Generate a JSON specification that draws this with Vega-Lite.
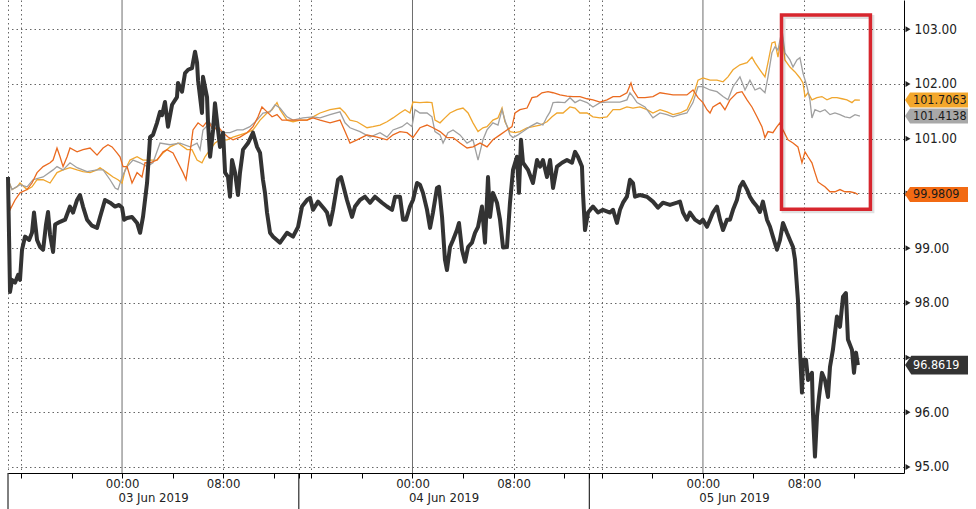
{
"$schema": "https://vega.github.io/schema/vega-lite/v6.json",
"width": 896, "height": 473,
"autosize": {"type": "none"},
"padding": {"left": 8, "top": 0, "right": 72, "bottom": 36},
"background": "#ffffff",
"config": {"view": {"stroke": null}, "font": "DejaVu Sans Condensed", "text": {"font": "DejaVu Sans Condensed"}, "axis": {"labelFont": "DejaVu Sans Condensed"}},
"datasets": {
"dark": [{"t":-9.03,"v":100.30},{"t":-8.87,"v":98.20},{"t":-8.71,"v":98.42},{"t":-8.47,"v":98.37},{"t":-8.23,"v":98.51},{"t":-8.08,"v":98.42},{"t":-7.92,"v":98.97},{"t":-7.68,"v":99.21},{"t":-7.36,"v":99.15},{"t":-7.13,"v":99.28},{"t":-6.97,"v":99.65},{"t":-6.73,"v":99.15},{"t":-6.49,"v":99.02},{"t":-6.25,"v":98.97},{"t":-6.02,"v":99.43},{"t":-5.86,"v":99.66},{"t":-5.70,"v":99.24},{"t":-5.46,"v":98.93},{"t":-5.30,"v":99.43},{"t":-4.91,"v":99.48},{"t":-4.51,"v":99.52},{"t":-4.12,"v":99.76},{"t":-3.88,"v":99.65},{"t":-3.56,"v":99.88},{"t":-3.33,"v":99.97},{"t":-3.09,"v":99.76},{"t":-2.77,"v":99.52},{"t":-2.38,"v":99.41},{"t":-1.98,"v":99.37},{"t":-1.74,"v":99.57},{"t":-1.35,"v":99.88},{"t":-0.95,"v":99.83},{"t":-0.55,"v":99.76},{"t":-0.24,"v":99.79},{"t":0,"v":99.74},{"t":0.16,"v":99.52},{"t":0.40,"v":99.55},{"t":0.79,"v":99.57},{"t":1.19,"v":99.46},{"t":1.43,"v":99.28},{"t":1.66,"v":99.57},{"t":1.98,"v":100.19},{"t":2.22,"v":101.03},{"t":2.45,"v":101.07},{"t":2.77,"v":101.29},{"t":3.01,"v":101.49},{"t":3.17,"v":101.43},{"t":3.40,"v":101.67},{"t":3.64,"v":101.22},{"t":3.96,"v":101.62},{"t":4.35,"v":101.76},{"t":4.43,"v":102.02},{"t":4.75,"v":101.86},{"t":4.99,"v":102.20},{"t":5.23,"v":102.26},{"t":5.54,"v":102.29},{"t":5.78,"v":102.59},{"t":5.94,"v":102.39},{"t":6.02,"v":102.07},{"t":6.33,"v":101.47},{"t":6.41,"v":102.13},{"t":6.73,"v":101.76},{"t":6.81,"v":101.29},{"t":6.97,"v":100.67},{"t":7.21,"v":101.16},{"t":7.36,"v":101.65},{"t":7.60,"v":101.16},{"t":7.76,"v":100.85},{"t":8.0,"v":101.11},{"t":8.16,"v":100.38},{"t":8.39,"v":100.30},{"t":8.55,"v":99.94},{"t":8.71,"v":100.61},{"t":8.95,"v":100.38},{"t":9.18,"v":99.97},{"t":9.34,"v":100.38},{"t":9.58,"v":100.80},{"t":9.98,"v":100.92},{"t":10.37,"v":101.11},{"t":10.53,"v":100.98},{"t":10.69,"v":100.85},{"t":10.93,"v":100.74},{"t":11.16,"v":100.25},{"t":11.32,"v":100.01},{"t":11.48,"v":99.65},{"t":11.72,"v":99.28},{"t":11.96,"v":99.21},{"t":12.51,"v":99.10},{"t":13.06,"v":99.28},{"t":13.54,"v":99.21},{"t":13.94,"v":99.39},{"t":14.25,"v":99.76},{"t":14.65,"v":99.88},{"t":14.89,"v":99.92},{"t":15.12,"v":99.70},{"t":15.52,"v":99.85},{"t":16.07,"v":99.70},{"t":16.23,"v":99.65},{"t":16.47,"v":99.43},{"t":16.71,"v":99.70},{"t":17.10,"v":100.25},{"t":17.34,"v":100.30},{"t":17.50,"v":100.16},{"t":17.81,"v":99.88},{"t":18.21,"v":99.57},{"t":18.45,"v":99.76},{"t":18.84,"v":99.88},{"t":19.24,"v":99.94},{"t":19.64,"v":99.83},{"t":20.03,"v":99.94},{"t":20.59,"v":99.83},{"t":20.98,"v":99.76},{"t":21.38,"v":99.70},{"t":21.62,"v":99.94},{"t":22.01,"v":99.94},{"t":22.25,"v":99.52},{"t":22.49,"v":99.52},{"t":22.80,"v":99.76},{"t":23.04,"v":99.88},{"t":23.36,"v":100.19},{"t":23.59,"v":100.16},{"t":23.83,"v":100.01},{"t":24.15,"v":99.70},{"t":24.39,"v":99.37},{"t":24.62,"v":99.65},{"t":24.94,"v":100.10},{"t":25.10,"v":100.12},{"t":25.34,"v":99.57},{"t":25.57,"v":98.79},{"t":25.73,"v":98.60},{"t":25.97,"v":99.02},{"t":26.21,"v":99.15},{"t":26.52,"v":99.33},{"t":26.68,"v":99.46},{"t":26.92,"v":98.97},{"t":27.16,"v":98.75},{"t":27.40,"v":99.02},{"t":27.71,"v":99.10},{"t":27.95,"v":99.28},{"t":28.19,"v":99.39},{"t":28.50,"v":99.76},{"t":28.74,"v":99.10},{"t":28.98,"v":100.30},{"t":29.14,"v":99.57},{"t":29.37,"v":100.01},{"t":29.69,"v":99.83},{"t":29.93,"v":99.52},{"t":30.17,"v":99.01},{"t":30.48,"v":99.02},{"t":30.72,"v":99.83},{"t":30.96,"v":100.43},{"t":31.27,"v":100.67},{"t":31.43,"v":100.01},{"t":31.59,"v":100.98},{"t":31.75,"v":100.56},{"t":32.15,"v":100.43},{"t":32.54,"v":100.19},{"t":32.86,"v":100.61},{"t":33.10,"v":100.49},{"t":33.33,"v":100.61},{"t":33.65,"v":100.30},{"t":33.89,"v":100.61},{"t":34.13,"v":100.10},{"t":34.44,"v":100.49},{"t":34.84,"v":100.56},{"t":35.23,"v":100.61},{"t":35.63,"v":100.56},{"t":35.87,"v":100.76},{"t":36.10,"v":100.67},{"t":36.42,"v":100.49},{"t":36.50,"v":100.01},{"t":36.66,"v":99.33},{"t":36.90,"v":99.65},{"t":37.29,"v":99.76},{"t":37.69,"v":99.65},{"t":38.08,"v":99.70},{"t":38.64,"v":99.65},{"t":38.88,"v":99.70},{"t":39.19,"v":99.46},{"t":39.43,"v":99.70},{"t":39.67,"v":99.83},{"t":39.98,"v":99.94},{"t":40.22,"v":100.25},{"t":40.46,"v":100.19},{"t":40.62,"v":99.94},{"t":41.01,"v":99.97},{"t":41.57,"v":99.94},{"t":42.04,"v":99.85},{"t":42.44,"v":99.74},{"t":42.83,"v":99.83},{"t":43.39,"v":99.79},{"t":43.94,"v":99.83},{"t":44.18,"v":99.85},{"t":44.42,"v":99.65},{"t":44.73,"v":99.52},{"t":44.97,"v":99.65},{"t":45.37,"v":99.52},{"t":45.76,"v":99.46},{"t":46.0,"v":99.52},{"t":46.32,"v":99.39},{"t":46.56,"v":99.52},{"t":46.79,"v":99.65},{"t":47.11,"v":99.76},{"t":47.35,"v":99.52},{"t":47.59,"v":99.33},{"t":47.90,"v":99.52},{"t":48.14,"v":99.52},{"t":48.38,"v":99.70},{"t":48.69,"v":99.88},{"t":48.93,"v":100.12},{"t":49.17,"v":100.21},{"t":49.49,"v":100.07},{"t":49.72,"v":99.94},{"t":49.96,"v":99.85},{"t":50.28,"v":99.76},{"t":50.51,"v":99.66},{"t":50.75,"v":99.85},{"t":51.07,"v":99.52},{"t":51.31,"v":99.39},{"t":51.54,"v":99.21},{"t":51.86,"v":98.97},{"t":52.10,"v":99.15},{"t":52.34,"v":99.46},{"t":52.65,"v":99.28},{"t":52.89,"v":99.15},{"t":53.13,"v":99.02},{"t":53.29,"v":98.79},{"t":53.52,"v":98.06},{"t":53.68,"v":97.14},{"t":53.84,"v":96.36},{"t":53.92,"v":96.96},{"t":54.16,"v":96.96},{"t":54.32,"v":96.59},{"t":54.63,"v":96.72},{"t":54.71,"v":95.99},{"t":54.87,"v":95.19},{"t":55.03,"v":95.92},{"t":55.19,"v":96.28},{"t":55.42,"v":96.72},{"t":55.66,"v":96.59},{"t":55.90,"v":96.28},{"t":56.06,"v":96.83},{"t":56.29,"v":97.14},{"t":56.61,"v":97.75},{"t":56.85,"v":97.56},{"t":57.09,"v":98.11},{"t":57.32,"v":98.18},{"t":57.48,"v":97.33},{"t":57.80,"v":97.14},{"t":57.96,"v":96.72},{"t":58.12,"v":97.09},{"t":58.27,"v":96.8619}],
"orange": [{"t":-9.03,"v":100.30},{"t":-8.87,"v":99.70},{"t":-8.47,"v":99.88},{"t":-8.08,"v":100.01},{"t":-7.52,"v":100.07},{"t":-7.13,"v":100.19},{"t":-6.73,"v":100.38},{"t":-6.25,"v":100.49},{"t":-5.70,"v":100.56},{"t":-5.46,"v":100.61},{"t":-5.15,"v":100.83},{"t":-4.91,"v":100.67},{"t":-4.67,"v":100.49},{"t":-4.35,"v":100.67},{"t":-4.12,"v":100.83},{"t":-3.56,"v":100.76},{"t":-3.09,"v":100.80},{"t":-2.53,"v":100.83},{"t":-1.98,"v":100.70},{"t":-1.50,"v":100.83},{"t":-1.11,"v":100.89},{"t":-0.79,"v":100.85},{"t":-0.40,"v":100.74},{"t":-0.16,"v":100.67},{"t":0.08,"v":100.49},{"t":0.40,"v":100.49},{"t":0.79,"v":100.19},{"t":1.19,"v":100.38},{"t":1.58,"v":100.30},{"t":1.82,"v":100.56},{"t":2.22,"v":100.56},{"t":2.77,"v":100.61},{"t":3.25,"v":100.76},{"t":3.56,"v":100.80},{"t":4.04,"v":100.74},{"t":4.43,"v":100.56},{"t":4.83,"v":100.38},{"t":5.07,"v":100.25},{"t":5.38,"v":100.74},{"t":5.62,"v":101.16},{"t":6.02,"v":101.29},{"t":6.41,"v":101.22},{"t":6.81,"v":101.34},{"t":7.21,"v":101.16},{"t":7.60,"v":101.22},{"t":8.0,"v":101.11},{"t":8.39,"v":101.03},{"t":8.79,"v":100.98},{"t":9.34,"v":101.03},{"t":9.90,"v":101.11},{"t":10.37,"v":101.22},{"t":10.77,"v":101.40},{"t":11.08,"v":101.58},{"t":11.48,"v":101.49},{"t":11.88,"v":101.40},{"t":12.27,"v":101.44},{"t":12.67,"v":101.34},{"t":13.54,"v":101.34},{"t":14.65,"v":101.34},{"t":15.12,"v":101.38},{"t":15.68,"v":101.34},{"t":16.47,"v":101.29},{"t":17.26,"v":101.34},{"t":17.66,"v":101.13},{"t":18.05,"v":100.92},{"t":18.61,"v":100.98},{"t":19.40,"v":101.07},{"t":20.19,"v":101.03},{"t":20.98,"v":100.98},{"t":21.46,"v":101.07},{"t":22.01,"v":101.13},{"t":22.57,"v":101.11},{"t":23.04,"v":101.02},{"t":23.59,"v":101.20},{"t":24.15,"v":101.25},{"t":24.62,"v":101.20},{"t":25.18,"v":101.13},{"t":25.73,"v":101.02},{"t":26.21,"v":101.02},{"t":26.76,"v":100.92},{"t":27.32,"v":100.83},{"t":27.79,"v":100.85},{"t":28.35,"v":100.92},{"t":28.90,"v":100.85},{"t":29.37,"v":100.98},{"t":29.93,"v":101.07},{"t":30.48,"v":101.16},{"t":30.88,"v":101.22},{"t":31.12,"v":101.47},{"t":31.51,"v":101.53},{"t":32.07,"v":101.56},{"t":32.46,"v":101.75},{"t":32.86,"v":101.77},{"t":33.25,"v":101.84},{"t":33.73,"v":101.86},{"t":34.13,"v":101.84},{"t":34.68,"v":101.80},{"t":35.23,"v":101.78},{"t":35.71,"v":101.77},{"t":36.26,"v":101.77},{"t":36.82,"v":101.73},{"t":37.29,"v":101.71},{"t":37.85,"v":101.67},{"t":38.40,"v":101.71},{"t":38.88,"v":101.77},{"t":39.43,"v":101.77},{"t":39.98,"v":101.84},{"t":40.30,"v":102.02},{"t":40.46,"v":101.89},{"t":40.85,"v":101.75},{"t":41.41,"v":101.75},{"t":42.04,"v":101.77},{"t":42.60,"v":101.84},{"t":43.15,"v":101.82},{"t":43.63,"v":101.80},{"t":44.18,"v":101.80},{"t":44.73,"v":101.80},{"t":45.21,"v":101.89},{"t":45.61,"v":101.75},{"t":46.0,"v":101.66},{"t":46.32,"v":101.53},{"t":46.56,"v":101.47},{"t":46.79,"v":101.58},{"t":47.35,"v":101.66},{"t":47.74,"v":101.53},{"t":48.14,"v":101.71},{"t":48.69,"v":101.84},{"t":49.09,"v":101.86},{"t":49.49,"v":101.71},{"t":49.88,"v":101.58},{"t":50.28,"v":101.40},{"t":50.67,"v":101.22},{"t":50.91,"v":101.02},{"t":51.15,"v":101.13},{"t":51.54,"v":101.11},{"t":51.86,"v":101.22},{"t":52.10,"v":101.29},{"t":52.34,"v":101.16},{"t":52.73,"v":100.98},{"t":53.13,"v":100.92},{"t":53.52,"v":100.85},{"t":53.84,"v":100.56},{"t":54.08,"v":100.76},{"t":54.32,"v":100.67},{"t":54.63,"v":100.56},{"t":54.87,"v":100.38},{"t":55.11,"v":100.21},{"t":55.42,"v":100.16},{"t":55.66,"v":100.12},{"t":56.06,"v":100.03},{"t":56.45,"v":100.03},{"t":56.85,"v":100.07},{"t":57.24,"v":100.03},{"t":57.64,"v":100.03},{"t":58.04,"v":100.01},{"t":58.27,"v":99.9809}],
"gold": [{"t":-9.03,"v":100.25},{"t":-8.71,"v":100.07},{"t":-8.31,"v":100.12},{"t":-8.08,"v":100.19},{"t":-7.52,"v":100.07},{"t":-7.13,"v":100.12},{"t":-6.73,"v":100.25},{"t":-6.25,"v":100.25},{"t":-5.70,"v":100.19},{"t":-5.15,"v":100.38},{"t":-4.67,"v":100.43},{"t":-4.12,"v":100.47},{"t":-3.56,"v":100.43},{"t":-3.09,"v":100.40},{"t":-2.53,"v":100.38},{"t":-1.98,"v":100.43},{"t":-1.74,"v":100.47},{"t":-1.19,"v":100.38},{"t":-0.71,"v":100.30},{"t":-0.32,"v":100.25},{"t":0,"v":100.19},{"t":0.24,"v":100.43},{"t":0.63,"v":100.61},{"t":1.19,"v":100.67},{"t":1.66,"v":100.61},{"t":2.22,"v":100.61},{"t":2.77,"v":100.61},{"t":3.25,"v":100.74},{"t":3.80,"v":100.85},{"t":4.43,"v":100.92},{"t":5.15,"v":100.80},{"t":5.54,"v":100.80},{"t":5.94,"v":100.61},{"t":6.33,"v":100.56},{"t":6.57,"v":100.67},{"t":6.97,"v":100.80},{"t":7.36,"v":100.92},{"t":7.76,"v":100.98},{"t":8.31,"v":100.98},{"t":8.79,"v":101.03},{"t":9.34,"v":101.07},{"t":9.90,"v":101.11},{"t":10.37,"v":101.16},{"t":10.93,"v":101.34},{"t":11.48,"v":101.47},{"t":11.88,"v":101.53},{"t":12.27,"v":101.66},{"t":12.51,"v":101.53},{"t":13.06,"v":101.34},{"t":13.54,"v":101.31},{"t":14.09,"v":101.34},{"t":14.65,"v":101.34},{"t":15.12,"v":101.40},{"t":15.68,"v":101.47},{"t":16.47,"v":101.53},{"t":17.26,"v":101.56},{"t":17.66,"v":101.47},{"t":18.05,"v":101.34},{"t":18.61,"v":101.31},{"t":19.40,"v":101.20},{"t":19.87,"v":101.22},{"t":20.43,"v":101.25},{"t":20.98,"v":101.31},{"t":21.46,"v":101.38},{"t":22.01,"v":101.47},{"t":22.41,"v":101.53},{"t":22.80,"v":101.47},{"t":23.04,"v":101.67},{"t":23.59,"v":101.66},{"t":24.15,"v":101.67},{"t":24.54,"v":101.66},{"t":24.78,"v":101.34},{"t":25.18,"v":101.29},{"t":25.57,"v":101.38},{"t":25.97,"v":101.47},{"t":26.52,"v":101.53},{"t":27.0,"v":101.56},{"t":27.40,"v":101.47},{"t":27.79,"v":101.29},{"t":28.19,"v":101.13},{"t":28.58,"v":101.20},{"t":28.90,"v":101.22},{"t":29.37,"v":101.34},{"t":29.77,"v":101.38},{"t":30.09,"v":101.56},{"t":30.32,"v":101.31},{"t":30.72,"v":101.13},{"t":31.12,"v":101.11},{"t":31.51,"v":101.13},{"t":32.07,"v":101.20},{"t":32.54,"v":101.22},{"t":33.10,"v":101.25},{"t":33.65,"v":101.31},{"t":34.05,"v":101.40},{"t":34.44,"v":101.47},{"t":34.92,"v":101.47},{"t":35.47,"v":101.58},{"t":35.87,"v":101.56},{"t":36.26,"v":101.47},{"t":36.82,"v":101.47},{"t":37.29,"v":101.40},{"t":37.85,"v":101.38},{"t":38.40,"v":101.40},{"t":38.88,"v":101.53},{"t":39.43,"v":101.53},{"t":39.98,"v":101.58},{"t":40.46,"v":101.56},{"t":41.01,"v":101.58},{"t":41.57,"v":101.53},{"t":42.04,"v":101.47},{"t":42.60,"v":101.53},{"t":43.15,"v":101.49},{"t":43.63,"v":101.44},{"t":44.18,"v":101.47},{"t":44.73,"v":101.53},{"t":45.21,"v":101.77},{"t":45.61,"v":102.07},{"t":46.0,"v":102.11},{"t":46.56,"v":102.07},{"t":47.11,"v":102.07},{"t":47.59,"v":102.04},{"t":47.98,"v":102.13},{"t":48.38,"v":102.26},{"t":48.93,"v":102.35},{"t":49.49,"v":102.39},{"t":49.88,"v":102.49},{"t":50.12,"v":102.39},{"t":50.51,"v":102.26},{"t":50.91,"v":102.13},{"t":51.15,"v":102.39},{"t":51.46,"v":102.75},{"t":51.70,"v":102.77},{"t":51.94,"v":102.49},{"t":52.26,"v":102.93},{"t":52.49,"v":102.44},{"t":52.89,"v":102.31},{"t":53.29,"v":102.22},{"t":53.68,"v":102.11},{"t":53.92,"v":102.02},{"t":54.08,"v":101.77},{"t":54.32,"v":101.84},{"t":54.63,"v":101.71},{"t":55.03,"v":101.75},{"t":55.42,"v":101.77},{"t":55.82,"v":101.71},{"t":56.22,"v":101.75},{"t":56.61,"v":101.75},{"t":57.01,"v":101.73},{"t":57.40,"v":101.71},{"t":57.80,"v":101.66},{"t":58.04,"v":101.71},{"t":58.43,"v":101.7063}],
"grey": [{"t":-9.03,"v":100.25},{"t":-8.71,"v":100.07},{"t":-8.08,"v":100.16},{"t":-7.52,"v":100.12},{"t":-7.05,"v":100.25},{"t":-6.25,"v":100.30},{"t":-5.46,"v":100.43},{"t":-5.15,"v":100.49},{"t":-4.67,"v":100.43},{"t":-4.12,"v":100.56},{"t":-3.56,"v":100.47},{"t":-2.77,"v":100.40},{"t":-1.98,"v":100.43},{"t":-1.50,"v":100.43},{"t":-0.95,"v":100.25},{"t":-0.55,"v":100.10},{"t":-0.32,"v":100.07},{"t":0,"v":100.30},{"t":0.40,"v":100.49},{"t":0.87,"v":100.61},{"t":1.43,"v":100.56},{"t":1.98,"v":100.49},{"t":2.45,"v":100.56},{"t":3.01,"v":100.92},{"t":3.80,"v":100.89},{"t":4.59,"v":100.92},{"t":5.38,"v":100.85},{"t":5.94,"v":100.92},{"t":6.18,"v":100.80},{"t":6.41,"v":101.16},{"t":6.97,"v":101.29},{"t":7.52,"v":101.16},{"t":8.0,"v":101.11},{"t":8.55,"v":101.11},{"t":9.11,"v":101.16},{"t":9.58,"v":101.16},{"t":10.13,"v":101.22},{"t":10.69,"v":101.34},{"t":11.16,"v":101.47},{"t":11.72,"v":101.49},{"t":12.11,"v":101.62},{"t":12.51,"v":101.56},{"t":13.06,"v":101.40},{"t":13.54,"v":101.34},{"t":14.33,"v":101.38},{"t":15.12,"v":101.40},{"t":15.68,"v":101.38},{"t":16.47,"v":101.44},{"t":17.26,"v":101.49},{"t":17.66,"v":101.29},{"t":18.05,"v":101.20},{"t":18.84,"v":101.13},{"t":19.64,"v":101.03},{"t":20.43,"v":101.11},{"t":20.98,"v":101.03},{"t":21.46,"v":101.16},{"t":22.17,"v":101.22},{"t":22.57,"v":101.29},{"t":22.96,"v":101.22},{"t":23.20,"v":101.53},{"t":23.59,"v":101.47},{"t":24.15,"v":101.47},{"t":24.54,"v":101.40},{"t":24.78,"v":101.13},{"t":25.18,"v":101.07},{"t":25.42,"v":100.92},{"t":25.81,"v":101.11},{"t":26.21,"v":101.16},{"t":26.76,"v":101.07},{"t":27.32,"v":100.92},{"t":27.79,"v":100.98},{"t":28.19,"v":100.61},{"t":28.58,"v":100.98},{"t":28.90,"v":101.16},{"t":29.37,"v":101.29},{"t":29.77,"v":101.25},{"t":30.09,"v":101.53},{"t":30.32,"v":101.34},{"t":30.72,"v":101.07},{"t":30.96,"v":101.02},{"t":31.35,"v":101.07},{"t":31.75,"v":101.13},{"t":32.30,"v":101.22},{"t":32.86,"v":101.29},{"t":33.33,"v":101.25},{"t":33.65,"v":101.40},{"t":33.89,"v":101.49},{"t":34.13,"v":101.66},{"t":34.52,"v":101.67},{"t":35.07,"v":101.66},{"t":35.47,"v":101.75},{"t":35.87,"v":101.66},{"t":36.26,"v":101.71},{"t":36.82,"v":101.66},{"t":37.29,"v":101.58},{"t":37.85,"v":101.66},{"t":38.40,"v":101.67},{"t":38.88,"v":101.67},{"t":39.43,"v":101.67},{"t":39.98,"v":101.71},{"t":40.22,"v":101.84},{"t":40.46,"v":101.77},{"t":40.78,"v":101.66},{"t":41.41,"v":101.58},{"t":42.04,"v":101.38},{"t":42.60,"v":101.47},{"t":43.15,"v":101.44},{"t":43.63,"v":101.40},{"t":44.18,"v":101.44},{"t":44.73,"v":101.47},{"t":45.21,"v":101.66},{"t":45.61,"v":101.95},{"t":46.0,"v":101.95},{"t":46.56,"v":101.89},{"t":47.11,"v":101.86},{"t":47.59,"v":101.77},{"t":47.98,"v":101.71},{"t":48.38,"v":101.95},{"t":48.93,"v":102.13},{"t":49.33,"v":101.89},{"t":49.72,"v":102.07},{"t":50.12,"v":101.89},{"t":50.51,"v":101.93},{"t":50.91,"v":101.84},{"t":51.15,"v":102.13},{"t":51.46,"v":102.57},{"t":51.70,"v":102.68},{"t":51.94,"v":102.62},{"t":52.26,"v":102.99},{"t":52.49,"v":102.57},{"t":52.89,"v":102.44},{"t":53.13,"v":102.31},{"t":53.44,"v":102.44},{"t":53.68,"v":102.48},{"t":53.92,"v":102.20},{"t":54.24,"v":101.95},{"t":54.47,"v":101.71},{"t":54.63,"v":101.38},{"t":54.87,"v":101.53},{"t":55.27,"v":101.49},{"t":55.66,"v":101.53},{"t":56.06,"v":101.44},{"t":56.45,"v":101.47},{"t":56.85,"v":101.44},{"t":57.24,"v":101.40},{"t":57.64,"v":101.38},{"t":58.04,"v":101.44},{"t":58.43,"v":101.4138}],
"majors": [{"v":95},{"v":96},{"v":97},{"v":98},{"v":99},{"v":100},{"v":101},{"v":102},{"v":103}],
"tags": [{"s":"gold","v":101.7063,"label":"101.7063"},{"s":"grey","v":101.4138,"label":"101.4138"},{"s":"orange","v":99.9809,"label":"99.9809"},{"s":"dark","v":96.8619,"label":"96.8619"}],
"separators": [{"t":-9.03},{"t":14},{"t":37}],
"midnights": [{"t":0},{"t":23},{"t":46}],
"days": [{"t":2.5,"label":"03 Jun 2019"},{"t":25.5,"label":"04 Jun 2019"},{"t":48.5,"label":"05 Jun 2019"}],
"box": [{"t1":52.22,"t2":59.26,"v1":99.71,"v2":103.26}]
},
"layer": [
{"data": {"name": "midnights"},
 "mark": {"type": "rule", "color": "#6e6e6e", "strokeWidth": 1},
 "encoding": {
  "x": {"field": "t", "type": "quantitative", "title": null, "scale": {"domain": [-9.03, 61.92], "nice": false, "zero": false},
   "axis": {"title": null,
    "values": [-9.03,-8,-4,0,4,8,12,14,15,19,23,27,31,35,37,38,42,46,50,54,58],
    "labelExpr": "(datum.value > -0.1 && datum.value < 0.1) || datum.value == 23 || datum.value == 46 ? '00:00' : (datum.value == 8 || datum.value == 31 || datum.value == 54 ? '08:00' : '')",
    "labelFontSize": 13, "labelColor": "#222222", "labelPadding": -1, "labelBaseline": "top",
    "labelOverlap": false, "labelFlush": false, "labelBound": false,
    "domainColor": "#000000", "domainWidth": 1, "tickColor": "#000000", "tickSize": 5, "tickWidth": 1,
    "tickOpacity": {"condition": {"test": "datum.value < -9", "value": 0}, "value": 1},
    "grid": true, "gridColor": "#666666", "gridDash": [1.5, 3],
    "gridOpacity": {"condition": {"test": "indexof([-9.03,-8,8,14,15,31,37,38,54], datum.value) < 0", "value": 0}, "value": 1}
   }}
 }},
{"data": {"name": "gold"},
 "mark": {"type": "line", "color": "#F0A62E", "strokeWidth": 1.3},
 "encoding": {
  "x": {"field": "t", "type": "quantitative", "title": null},
  "y": {"field": "v", "type": "quantitative", "title": null, "scale": {"domain": [94.89, 103.535], "nice": false, "zero": false},
   "axis": {"title": null, "orient": "right",
    "values": [95,95.5,96,96.5,97,97.5,98,98.5,99,99.5,100,100.5,101,101.5,102,102.5,103,103.5],
    "format": ".2f",
    "labelExpr": "(datum.value % 1 != 0 || datum.value == 97 || datum.value == 100) ? '' : datum.label",
    "labelFontSize": 13.5, "labelColor": "#222222", "labelPadding": 5,
    "labelOverlap": false, "labelFlush": false, "labelBound": false,
    "tickSize": 5, "tickColor": "#222222",
    "tickOpacity": {"condition": {"test": "datum.value % 1 == 0", "value": 0}, "value": 1},
    "domainColor": "#000000",
    "grid": true, "gridColor": "#666666", "gridDash": [1.5, 3],
    "gridOpacity": {"condition": {"test": "datum.value % 1 != 0", "value": 0}, "value": 1}
   }}
 }},
{"data": {"name": "grey"},
 "mark": {"type": "line", "color": "#A0A0A0", "strokeWidth": 1.3},
 "encoding": {"x": {"field": "t", "type": "quantitative", "title": null}, "y": {"field": "v", "type": "quantitative", "title": null}}},
{"data": {"name": "orange"},
 "mark": {"type": "line", "color": "#EA6A1F", "strokeWidth": 1.3},
 "encoding": {"x": {"field": "t", "type": "quantitative", "title": null}, "y": {"field": "v", "type": "quantitative", "title": null}}},
{"data": {"name": "dark"},
 "mark": {"type": "line", "color": "#333333", "strokeWidth": 4, "strokeJoin": "round"},
 "encoding": {"x": {"field": "t", "type": "quantitative", "title": null}, "y": {"field": "v", "type": "quantitative", "title": null}}},
{"data": {"name": "box"},
 "mark": {"type": "rect", "fill": "#000000", "fillOpacity": 0, "stroke": "#000000", "strokeOpacity": 0.12, "strokeWidth": 4, "xOffset": 2, "x2Offset": 2, "yOffset": 2, "y2Offset": 2},
 "encoding": {"x": {"field": "t1", "type": "quantitative", "title": null}, "x2": {"field": "t2"}, "y": {"field": "v2", "type": "quantitative", "title": null}, "y2": {"field": "v1"}}},
{"data": {"name": "box"},
 "mark": {"type": "rect", "fill": "#ffffff", "fillOpacity": 0, "stroke": "#D7262E", "strokeWidth": 3.5},
 "encoding": {"x": {"field": "t1", "type": "quantitative", "title": null}, "x2": {"field": "t2"}, "y": {"field": "v2", "type": "quantitative", "title": null}, "y2": {"field": "v1"}}},
{"data": {"name": "separators"},
 "mark": {"type": "rule", "color": "#000000", "strokeWidth": 1},
 "encoding": {"x": {"field": "t", "type": "quantitative", "title": null}, "y": {"datum": 94.89, "type": "quantitative", "title": null}, "y2": {"datum": 94.23}}},
{"data": {"name": "days"},
 "mark": {"type": "text", "align": "center", "baseline": "middle", "dy": 25, "fontSize": 13, "color": "#222222"},
 "encoding": {"x": {"field": "t", "type": "quantitative", "title": null}, "y": {"datum": 94.89, "type": "quantitative", "title": null}, "text": {"field": "label", "type": "nominal"}}},
{"data": {"name": "majors"},
 "mark": {"type": "point", "shape": "triangle-right", "filled": true, "size": 34, "color": "#222222", "opacity": 1, "xOffset": 4},
 "encoding": {"x": {"datum": 61.92, "type": "quantitative", "title": null}, "y": {"field": "v", "type": "quantitative", "title": null}}},
{"data": {"name": "tags"},
 "mark": {"type": "point", "filled": true, "opacity": 1, "strokeWidth": 0, "size": 3969, "xOffset": 1},
 "encoding": {"x": {"datum": 61.92, "type": "quantitative", "title": null}, "y": {"field": "v", "type": "quantitative", "title": null},
  "fill": {"field": "s", "type": "nominal", "legend": null, "scale": {"domain": ["gold","grey","orange","dark"], "range": ["#F3A72C","#A8A8A8","#F26A13","#333333"]}},
  "shape": {"field": "s", "type": "nominal", "legend": null, "scale": {"domain": ["gold","grey","orange","dark"], "range": ["M0,0L0.16,-0.24L2,-0.24L2,0.24L0.16,0.24Z","M0,0L0.16,-0.24L2,-0.24L2,0.24L0.16,0.24Z","M0,0L0.16,-0.24L2,-0.24L2,0.24L0.16,0.24Z","M0,0L0.2,-0.3L2,-0.3L2,0.3L0.2,0.3Z"]}}}},
{"data": {"name": "tags"},
 "mark": {"type": "text", "align": "left", "baseline": "middle", "dx": 9, "fontSize": 12.5},
 "encoding": {"x": {"datum": 61.92, "type": "quantitative", "title": null}, "y": {"field": "v", "type": "quantitative", "title": null},
  "text": {"field": "label", "type": "nominal"},
  "color": {"condition": {"test": "datum.s === 'dark'", "value": "#ffffff"}, "value": "#1a1a1a"}}}
]
}
